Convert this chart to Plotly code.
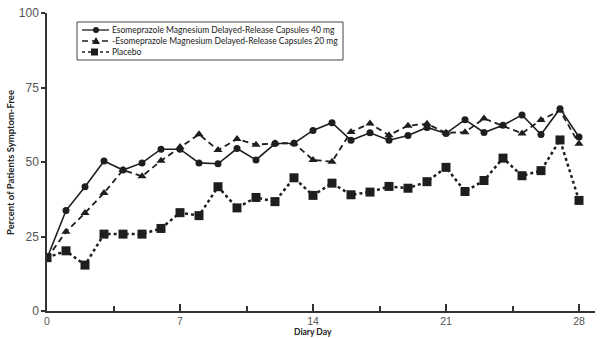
import plotly.graph_objects as go

# ---- data ----
days = list(range(29))
esome40 = [17.7, 33.7, 41.7, 50.3, 47.3, 49.7, 54.3, 54.3, 49.7, 49.4, 54.5, 50.7, 56.2, 56.3,
           60.6, 63.2, 57.3, 59.8, 57.3, 58.9, 61.6, 59.6, 64.2, 59.9, 62.3, 65.8, 59.2, 67.9, 58.4]
esome20 = [17.7, 26.6, 32.9, 39.6, 47.3, 45.2, 50.4, 55.0, 59.3, 54.0, 57.7, 55.8, 56.3, 56.3,
           50.7, 50.1, 60.1, 62.9, 59.0, 62.2, 62.8, 59.8, 60.0, 64.6, 62.2, 59.6, 64.1, 67.3, 56.1]
placebo = [17.9, 20.2, 15.4, 25.8, 25.8, 25.8, 27.7, 33.0, 32.0, 41.7, 34.6, 38.1, 36.7, 44.7,
           38.8, 42.9, 39.0, 39.9, 41.8, 41.2, 43.4, 48.2, 40.1, 43.8, 51.3, 45.4, 47.1, 57.4, 37.1]
names = ["Esomeprazole Magnesium Delayed-Release Capsules 40 mg",
         "-Esomeprazole Magnesium Delayed-Release Capsules 20 mg",
         "Placebo"]
xticks = [0, 7, 14, 21, 28]
yticks = [0, 25, 50, 75, 100]

W, H = 600, 338
L, R, T, B = 47, 5, 13, 27
PW, PH = W - L - R, H - T - B

def px(x):
    return (x - L) / PW

def py(y):
    return (H - B - y) / PH

INK = "#1e1e1e"
fig = go.Figure()
fig.add_trace(go.Scatter(x=days, y=placebo, mode="lines+markers", name=names[2],
                         line=dict(color=INK, width=2.5, dash="3px,3px"),
                         marker=dict(symbol="square", size=9, color=INK)))
fig.add_trace(go.Scatter(x=days, y=esome20, mode="lines+markers", name=names[1],
                         line=dict(color=INK, width=1.8, dash="6px,4px"),
                         marker=dict(symbol="triangle-up", size=8, color=INK)))
fig.add_trace(go.Scatter(x=days, y=esome40, mode="lines+markers", name=names[0],
                         line=dict(color=INK, width=1.6),
                         marker=dict(symbol="circle", size=7, color=INK)))

shapes = []
# legend box
shapes.append(dict(type="rect", xref="paper", yref="paper", x0=px(77), x1=px(343),
                   y0=py(22), y1=py(60), line=dict(color="#444", width=1), fillcolor="white",
                   layer="above"))
rows = [30, 41, 52]
dashes = ["solid", "6px,4px", "3px,3px"]
for ry, d in zip(rows, dashes):
    shapes.append(dict(type="line", xref="paper", yref="paper", x0=px(82), x1=px(109),
                       y0=py(ry), y1=py(ry), line=dict(color=INK, width=1.3, dash=d), layer="above"))
# legend markers
shapes.append(dict(type="circle", xref="paper", yref="paper", x0=px(93), x1=px(99),
                   y0=py(rows[0] - 3), y1=py(rows[0] + 3), fillcolor=INK, line=dict(width=0), layer="above"))
tx, ty = 96, rows[1]
shapes.append(dict(type="path", xref="paper", yref="paper",
                   path=f"M {px(tx-4)} {py(ty+3)} L {px(tx+4)} {py(ty+3)} L {px(tx)} {py(ty-4)} Z",
                   fillcolor=INK, line=dict(width=0), layer="above"))
shapes.append(dict(type="rect", xref="paper", yref="paper", x0=px(91), x1=px(98),
                   y0=py(rows[2] - 3.5), y1=py(rows[2] + 3.5), fillcolor=INK, line=dict(width=0), layer="above"))

annotations = []
for ry, n in zip(rows, names):
    annotations.append(dict(text=n, xref="paper", yref="paper", x=px(110), y=py(ry),
                            xanchor="left", yanchor="middle", showarrow=False,
                            font=dict(family="Lato", size=8.5, color="#222")))
annotations.append(dict(text="<b>Diary Day</b>", xref="paper", yref="paper", x=px(313), y=py(338),
                        xanchor="center", yanchor="bottom", showarrow=False, borderpad=0,
                        font=dict(family="Lato", size=8.5, color="#222")))
annotations.append(dict(text="<b>Percent of Patients Symptom-Free</b>", xref="paper", yref="paper",
                        x=px(10), y=py(163), textangle=-90, xanchor="center", yanchor="middle",
                        showarrow=False, font=dict(family="Lato", size=9.5, color="#222")))

fig.update_layout(
    width=W, height=H, margin=dict(l=L, r=R, t=T, b=B, autoexpand=False),
    paper_bgcolor="white", plot_bgcolor="white", showlegend=False,
    shapes=shapes, annotations=annotations,
    xaxis=dict(range=[0, (W - R - L) / 19.0], tickvals=xticks, ticktext=[str(v) for v in xticks],
               showgrid=False, zeroline=False, showline=True, linecolor="#333", linewidth=1.5,
               ticks="inside", ticklen=7, tickwidth=1.5, tickcolor="#333",
               minor=dict(tick0=0, dtick=3.5, ticks="inside", ticklen=5, tickwidth=1.5, tickcolor="#333"),
               tickfont=dict(family="Liberation Sans", size=10.5, color="#555")),
    yaxis=dict(range=[0, 100], tickvals=yticks, ticktext=[str(v) for v in yticks],
               showgrid=False, zeroline=False, showline=True, linecolor="#333", linewidth=1.5,
               ticks="outside", ticklen=4, tickwidth=1.5, tickcolor="#333",
               tickfont=dict(family="Liberation Sans", size=12, color="#555")),
)
fig.write_html("out.html")
